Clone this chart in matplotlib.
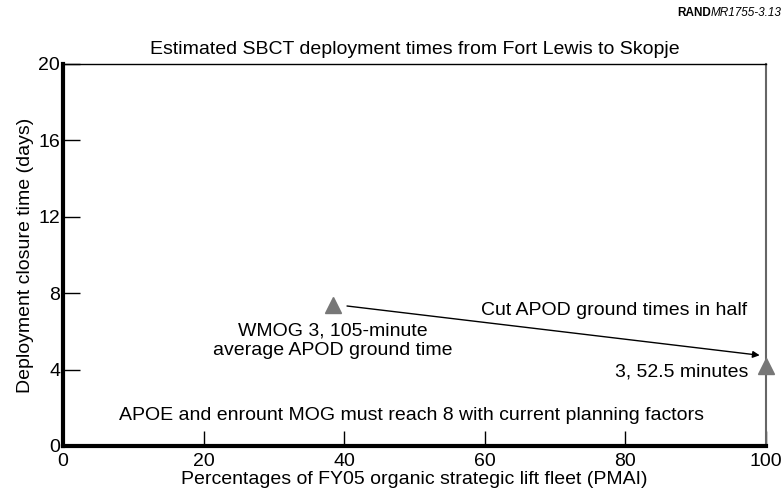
import matplotlib
matplotlib.use("Agg")
import matplotlib.pyplot as plt

plt.rcParams['font.family'] = ['Liberation Sans', 'DejaVu Sans']

# point estimates (percent of fleet, closure days)
pmai = [38.4, 100]
closure = [7.4, 4.2]

xticks = [0, 20, 40, 60, 80, 100]
yticks = [0, 4, 8, 12, 16, 20]

fig = plt.figure(figsize=(7.84, 4.99), dpi=100)
ax = fig.add_axes([63 / 784, 53 / 499, 703 / 784, 382 / 499])

ax.plot(pmai, closure, linestyle='none', marker='^', markersize=11,
        color='#777777', clip_on=False, zorder=5)

# arrow between the two cases
ax.annotate('', xy=(99.1, 4.75), xytext=(40.4, 7.33),
            arrowprops=dict(arrowstyle='-|>', color='black', lw=1,
                            mutation_scale=10, shrinkA=0, shrinkB=0))

fs = 14
ax.text(97.3, 7.1, 'Cut APOD ground times in half', ha='right', va='center', fontsize=fs)
ax.text(38.4, 5.5, 'WMOG 3, 105-minute\naverage APOD ground time', ha='center',
        va='center', fontsize=fs, linespacing=1.15)
ax.text(97.5, 3.86, '3, 52.5 minutes', ha='right', va='center', fontsize=fs)
ax.text(49.6, 1.6, 'APOE and enrount MOG must reach 8 with current planning factors',
        ha='center', va='center', fontsize=fs)

ax.set_xlim(0, 100)
ax.set_ylim(0, 20)
ax.set_xticks(xticks)
ax.set_yticks(yticks)
ax.tick_params(direction='in', width=1, labelsize=fs)
ax.tick_params(axis='y', length=12.5, pad=2)
ax.tick_params(axis='x', length=10.5, pad=5)

ax.spines['left'].set_linewidth(3)
ax.spines['bottom'].set_linewidth(3)
ax.spines['top'].set_linewidth(1)
ax.spines['right'].set_linewidth(1.5)
ax.spines['right'].set_color('#666666')

ax.set_xlabel('Percentages of FY05 organic strategic lift fleet (PMAI)', fontsize=fs, labelpad=1)
ax.set_ylabel('Deployment closure time (days)', fontsize=fs, labelpad=3)
ax.set_title('Estimated SBCT deployment times from Fort Lewis to Skopje', fontsize=fs, pad=7)

fig.text(0.907, 0.973, 'RAND', fontsize=8.5, fontweight='bold', ha='right', va='center')
fig.text(0.907, 0.973, 'MR1755-3.13', fontsize=8.5, style='italic', ha='left', va='center')

fig.savefig('out.png', dpi=100)
